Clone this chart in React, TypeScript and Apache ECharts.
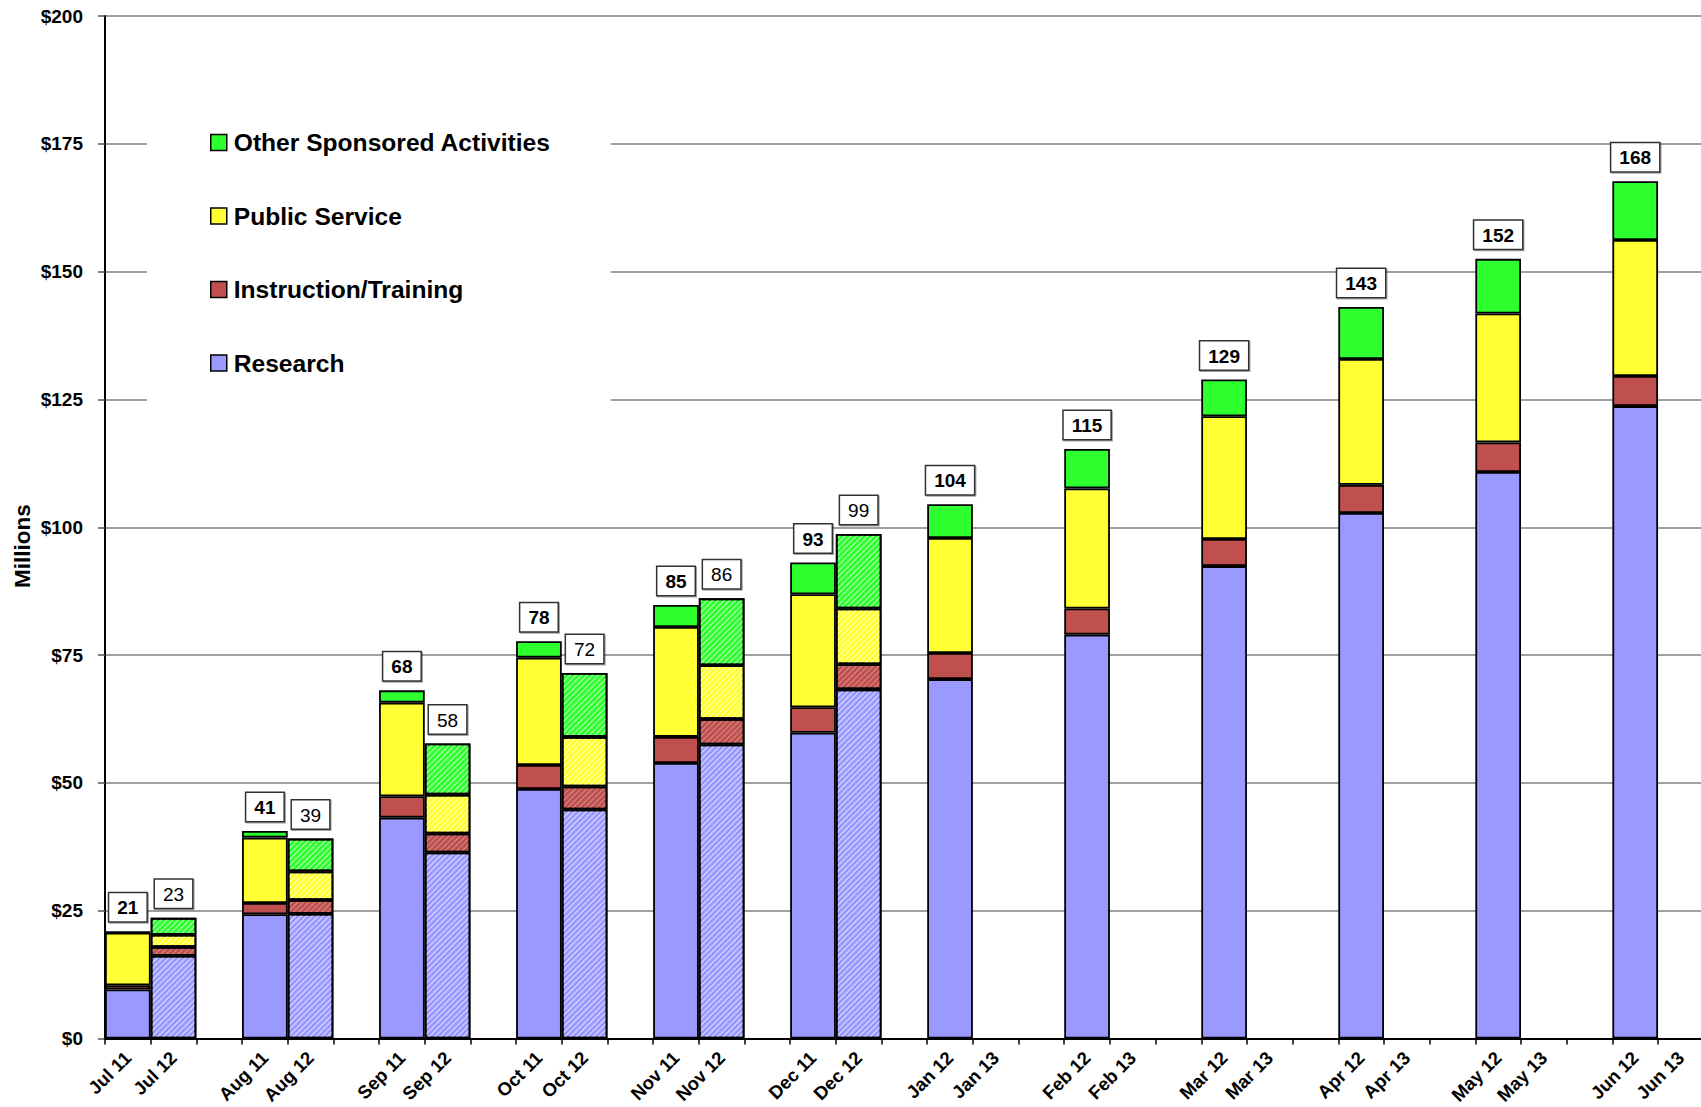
import React, { useEffect, useRef } from "react";
import * as echarts from "echarts";

const priorLabels = ["Jul 11", "Aug 11", "Sep 11", "Oct 11", "Nov 11", "Dec 11", "Jan 12", "Feb 12", "Mar 12", "Apr 12", "May 12", "Jun 12"];
const currentLabels = ["Jul 12", "Aug 12", "Sep 12", "Oct 12", "Nov 12", "Dec 12", "Jan 13", "Feb 13", "Mar 13", "Apr 13", "May 13", "Jun 13"];

// prior fiscal year (solid bars)
const research12 = [9.6, 24.3, 43.2, 48.8, 53.9, 59.8, 70.3, 79.0, 92.4, 102.8, 110.8, 123.7];
const instruction12 = [0.8, 2.2, 4.2, 4.7, 5.1, 5.0, 5.1, 5.1, 5.3, 5.5, 5.8, 5.9];
const publicService12 = [10.3, 12.8, 18.3, 21.0, 21.5, 22.1, 22.5, 23.5, 24.0, 24.6, 25.2, 26.6];
const other12 = [0.2, 1.3, 2.4, 3.2, 4.3, 6.2, 6.6, 7.7, 7.2, 10.2, 10.7, 11.5];
const totals12 = [21, 41, 68, 78, 85, 93, 104, 115, 129, 143, 152, 168];

// current fiscal year (hatched bars)
const research13 = [16.2, 24.4, 36.4, 44.8, 57.5, 68.3];
const instruction13 = [1.7, 2.7, 3.7, 4.5, 5.0, 4.9];
const publicService13 = [2.4, 5.6, 7.6, 9.7, 10.5, 10.9];
const other13 = [3.3, 6.4, 10.0, 12.5, 13.1, 14.6];
const totals13 = [23, 39, 58, 72, 86, 99];

const yTicks = [0, 25, 50, 75, 100, 125, 150, 175, 200];

const FONT = "'Liberation Sans', Arial, sans-serif";

const decal = {
  symbol: "rect",
  color: "rgba(255,255,255,0.7)",
  dashArrayX: [1, 0],
  dashArrayY: [1, 3],
  rotation: -Math.PI / 4,
  symbolKeepAspect: false,
};

const decalLight = { ...decal, color: "rgba(255,255,255,0.35)" };

function buildCategories() {
  const cats: string[] = [];
  for (let i = 0; i < priorLabels.length; i++) {
    cats.push(priorLabels[i]);
    cats.push(currentLabels[i]);
    cats.push("");
  }
  return cats;
}

function buildData(prior: number[], current: number[], withLabel: boolean, d: any) {
  const data: any[] = [];
  for (let i = 0; i < prior.length; i++) {
    data.push(withLabel ? { value: prior[i], label: { fontWeight: "bold" } } : prior[i]);
    if (i < current.length) {
      const item: any = { value: current[i], itemStyle: { decal: d } };
      if (withLabel) item.label = { fontWeight: "normal" };
      data.push(item);
    } else {
      data.push("-");
    }
    data.push("-");
  }
  return data;
}

function buildTotals() {
  const t: (number | null)[] = [];
  for (let i = 0; i < totals12.length; i++) {
    t.push(totals12[i]);
    t.push(i < totals13.length ? totals13[i] : null);
    t.push(null);
  }
  return t;
}

export default function App() {
  const ref = useRef<HTMLDivElement>(null);

  useEffect(() => {
    if (!ref.current) return;
    const chart = echarts.init(ref.current, undefined, { renderer: "svg" });
    const categories = buildCategories();
    const totals = buildTotals();

    const barBase = {
      type: "bar",
      stack: "total",
      barWidth: "100%",
      barCategoryGap: 0,
      itemStyle: { borderColor: "#000", borderWidth: 1.8 },
      emphasis: { disabled: true },
    };

    const option: any = {
      animation: false,
      backgroundColor: "#fff",
      textStyle: { fontFamily: FONT },
      grid: { left: 105, right: 10.6, top: 16, bottom: 68.3 },
      legend: {
        orient: "vertical",
        left: 147,
        top: 110,
        padding: [20, 60, 40, 63],
        backgroundColor: "#fff",
        itemWidth: 16,
        itemHeight: 16,
        itemGap: 48.5,
        icon: "rect",
        selectedMode: false,
        data: ["Other Sponsored Activities", "Public Service", "Instruction/Training", "Research"],
        textStyle: { fontSize: 24.6, fontWeight: "bold", color: "#000", fontFamily: FONT, lineHeight: 25, padding: [0, 0, 0, 2] },
        itemStyle: { borderColor: "#000", borderWidth: 1.5 },
      },
      xAxis: {
        type: "category",
        data: categories,
        axisLine: { lineStyle: { color: "#000", width: 2 } },
        axisTick: { show: true, interval: 0, length: 6, lineStyle: { color: "#000", width: 1.5 } },
        axisLabel: {
          interval: 0,
          rotate: 45,
          margin: 16,
          fontSize: 18.5,
          fontWeight: "bold",
          color: "#000",
          fontFamily: FONT,
        },
        splitLine: { show: false },
      },
      yAxis: {
        type: "value",
        min: yTicks[0],
        max: yTicks[yTicks.length - 1],
        interval: 25,
        axisLine: { show: true, lineStyle: { color: "#000", width: 2 } },
        axisTick: { show: true, length: 7, lineStyle: { color: "#555", width: 1.5 } },
        axisLabel: {
          margin: 22,
          fontSize: 19,
          fontWeight: "bold",
          color: "#000",
          fontFamily: FONT,
          formatter: (v: number) => "$" + v,
        },
        splitLine: { show: true, lineStyle: { color: "#808080", width: 1.5 } },
      },
      graphic: [
        {
          type: "text",
          x: 22,
          y: 546,
          rotation: Math.PI / 2,
          style: {
            text: "Millions",
            fontSize: 22.5,
            fontWeight: "bold",
            fontFamily: FONT,
            fill: "#000",
            align: "center",
            verticalAlign: "middle",
          },
        },
      ],
      series: [
        { ...barBase, name: "Research", color: "#9999FF", data: buildData(research12, research13, false, decal) },
        { ...barBase, name: "Instruction/Training", color: "#C0504D", data: buildData(instruction12, instruction13, false, decalLight) },
        { ...barBase, name: "Public Service", color: "#FFFF33", data: buildData(publicService12, publicService13, false, decal) },
        {
          ...barBase,
          name: "Other Sponsored Activities",
          color: "#2EFF2E",
          data: buildData(other12, other13, true, decal),
          label: {
            show: true,
            position: "top",
            distance: 10,
            formatter: (p: any) => (totals[p.dataIndex] == null ? "" : String(totals[p.dataIndex])),
            fontSize: 19,
            fontFamily: FONT,
            color: "#000",
            backgroundColor: "#fff",
            borderColor: "#333",
            borderWidth: 1.5,
            padding: [5, 8, 4, 8],
            shadowColor: "rgba(0,0,0,0.35)",
            shadowOffsetX: 1,
            shadowOffsetY: 1,
            shadowBlur: 1,
          },
        },
      ],
    };

    chart.setOption(option);
    return () => chart.dispose();
  }, []);

  return (
    <div style={{ position: "fixed", left: 0, top: 0, width: 1701, height: 1107, overflow: "hidden", background: "#fff" }}>
      <div ref={ref} style={{ width: 1760, height: 1107 }} />
    </div>
  );
}
